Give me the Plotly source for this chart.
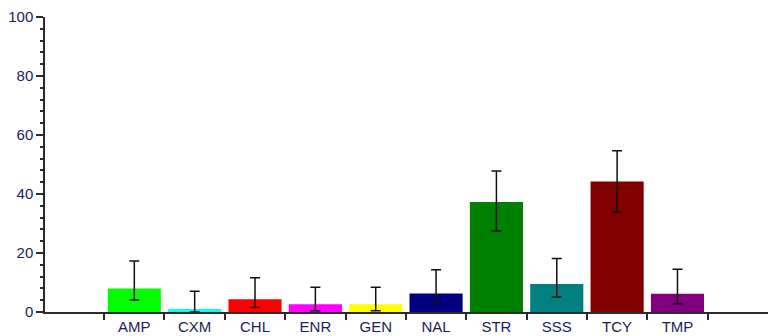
import plotly.graph_objects as go

# Antimicrobial agents and their resistance percentages with confidence bounds
agents = ["AMP", "CXM", "CHL", "ENR", "GEN", "NAL", "STR", "SSS", "TCY", "TMP"]
percent = [8.0, 1.0, 4.3, 2.6, 2.6, 6.3, 37.3, 9.5, 44.2, 6.2]
upper = [17.3, 7.0, 11.6, 8.4, 8.4, 14.3, 47.8, 18.1, 54.7, 14.5]
lower = [4.1, 0.0, 1.5, 0.4, 0.4, 2.8, 27.5, 5.1, 33.9, 2.8]
colors = ["#00FF00", "#00FFFF", "#FF0000", "#FF00FF", "#FFFF00",
          "#000080", "#008000", "#008080", "#800000", "#800080"]
y_ticks = [0, 20, 40, 60, 80, 100]

err_plus = [u - p for u, p in zip(upper, percent)]
err_minus = [p - l for p, l in zip(percent, lower)]

AXIS = "#2b2b2b"
TEXT = "#1c2257"
FONT = "Liberation Sans, Arial, sans-serif"
x_range = [-1.48, 10.5]
boundaries = [i - 0.5 for i in range(len(agents) + 1)]

fig = go.Figure()
fig.add_trace(go.Bar(
    x=agents, y=percent,
    marker=dict(color=colors, line=dict(width=0)),
    error_y=dict(type="data", symmetric=False, array=err_plus,
                 arrayminus=err_minus, color="#111111", thickness=1.5, width=5),
    width=0.88,
))

fig.update_layout(
    width=768, height=336,
    margin=dict(l=45, r=0, t=17, b=24),
    paper_bgcolor="white", plot_bgcolor="white",
    showlegend=False,
    font=dict(family=FONT, size=15, color=TEXT),
    xaxis=dict(
        type="category", range=x_range,
        showline=True, linecolor=AXIS, linewidth=1.5,
        ticks="outside", tickson="boundaries", ticklen=6, tickwidth=1.5,
        tickcolor=AXIS, showgrid=False, zeroline=False,
        tickfont=dict(size=15, color=TEXT),
    ),
    # overlay axis adds the upper half of the crossing boundary ticks
    xaxis2=dict(
        overlaying="x", range=x_range, tickvals=boundaries,
        ticks="inside", ticklen=6, tickwidth=1.5, tickcolor=AXIS,
        showticklabels=False, showline=False, showgrid=False, zeroline=False,
    ),
    yaxis=dict(
        range=[0, 100], tickvals=y_ticks,
        showline=True, linecolor=AXIS, linewidth=1.5,
        ticks="outside", ticklen=7, tickwidth=1.5, tickcolor=AXIS,
        minor=dict(dtick=4, ticks="outside", ticklen=3, tickwidth=1.5,
                   tickcolor=AXIS, showgrid=False),
        showgrid=False, zeroline=False,
        tickfont=dict(size=15, color=TEXT),
    ),
    # overlay axis adds the right half of the crossing value ticks
    yaxis2=dict(
        overlaying="y", range=[0, 100], tickvals=y_ticks,
        ticks="inside", ticklen=6, tickwidth=1.5, tickcolor=AXIS,
        minor=dict(dtick=4, ticks="inside", ticklen=2, tickwidth=1.5,
                   tickcolor=AXIS, showgrid=False),
        showticklabels=False, showline=False, showgrid=False, zeroline=False,
    ),
)

fig.write_html("out.html")
